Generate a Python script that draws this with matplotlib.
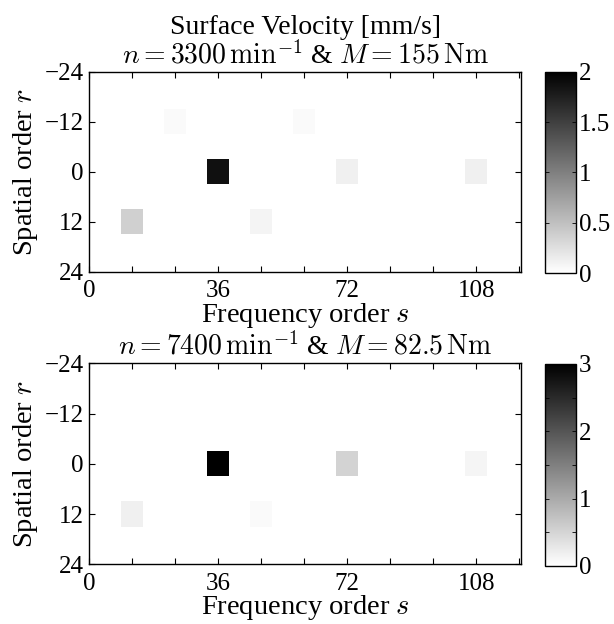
import numpy as np
import matplotlib
matplotlib.use("Agg")
import matplotlib.pyplot as plt

plt.rcParams["font.family"] = ["Liberation Serif", "DejaVu Serif"]
plt.rcParams["mathtext.fontset"] = "cm"
plt.rcParams["xtick.direction"] = "in"
plt.rcParams["ytick.direction"] = "in"

# Data: (frequency order s, spatial order r, surface velocity mm/s)
s_top = [12, 24, 36, 48, 60, 72, 108]
r_top = [12, -12, 0, 12, -12, 0, 0]
v_top = [0.37, 0.04, 1.87, 0.09, 0.04, 0.12, 0.12]

s_bot = [12, 36, 48, 72, 108]
r_bot = [12, 0, 12, 0, 0]
v_bot = [0.18, 3.0, 0.06, 0.52, 0.12]

title_top = "Surface Velocity [mm/s]\n$n = 3300\\,\\mathrm{min}^{-1}$ & $M = 155\\,\\mathrm{Nm}$"
title_bot = "$n = 7400\\,\\mathrm{min}^{-1}$ & $M = 82.5\\,\\mathrm{Nm}$"
vmax_top = 2
vmax_bot = 3
cbar_ticks_top = [0, 0.5, 1, 1.5, 2]
cbar_ticks_bot = [0, 1, 2, 3]

# cell grid (6 x 6 bins)
s_edges = np.arange(-3, 127, 6)
r_edges = np.arange(-27, 31, 6)


def to_grid(s, r, v):
    grid = np.zeros((len(r_edges) - 1, len(s_edges) - 1))
    for si, ri, vi in zip(s, r, v):
        grid[np.searchsorted(r_edges, ri) - 1, np.searchsorted(s_edges, si) - 1] = vi
    return grid


fig = plt.figure(figsize=(6.14, 6.24), dpi=100)
W, H = 614, 624


def panel(ax_box, cb_box, s, r, v, vmax, cticks, title):
    ax = fig.add_axes([ax_box[0] / W, 1 - ax_box[3] / H,
                       (ax_box[2] - ax_box[0]) / W, (ax_box[3] - ax_box[1]) / H])
    mesh = ax.pcolormesh(s_edges, r_edges, to_grid(s, r, v), cmap="gray_r",
                         vmin=0, vmax=vmax)
    ax.set_xlim(0, 120.5)
    ax.set_ylim(24, -24)
    ax.set_xticks(np.arange(0, 121, 12))
    ax.set_xticklabels([str(t) if t % 36 == 0 else "" for t in range(0, 121, 12)])
    ax.set_yticks([-24, -12, 0, 12, 24])
    ax.set_yticklabels(["\u221224", "\u221212", "0", "12", "24"])
    ax.tick_params(top=True, right=True, length=4, width=0.8, labelsize=18)
    ax.tick_params(axis="x", pad=6)
    ax.tick_params(axis="y", pad=4)
    for sp in ax.spines.values():
        sp.set_linewidth(1.0)
    ax.set_xlabel("Frequency order $s$", fontsize=20.5, labelpad=-1)
    ax.set_ylabel("Spatial order $r$", fontsize=20.5, labelpad=3)
    ax.set_title(title, fontsize=20, pad=6, linespacing=1.05)

    cax = fig.add_axes([cb_box[0] / W, 1 - cb_box[3] / H,
                        (cb_box[2] - cb_box[0]) / W, (cb_box[3] - cb_box[1]) / H])
    cb = fig.colorbar(mesh, cax=cax)
    cb.set_ticks(cticks)
    cb.set_ticklabels([f"{t:g}" for t in cticks])
    cb.ax.yaxis.set_minor_locator(matplotlib.ticker.MultipleLocator(0.5))
    cb.ax.tick_params(which="both", direction="in", left=True, right=True,
                      length=3, width=0.6, labelsize=18, pad=2)
    cb.outline.set_linewidth(1.0)
    return ax


panel((89, 71.7, 521, 272), (545, 71.7, 576, 273), s_top, r_top, v_top,
      vmax_top, cbar_ticks_top, title_top)
panel((89, 363.3, 521, 564.3), (545, 364, 576, 566), s_bot, r_bot, v_bot,
      vmax_bot, cbar_ticks_bot, title_bot)

fig.savefig("out.png", dpi=100)
